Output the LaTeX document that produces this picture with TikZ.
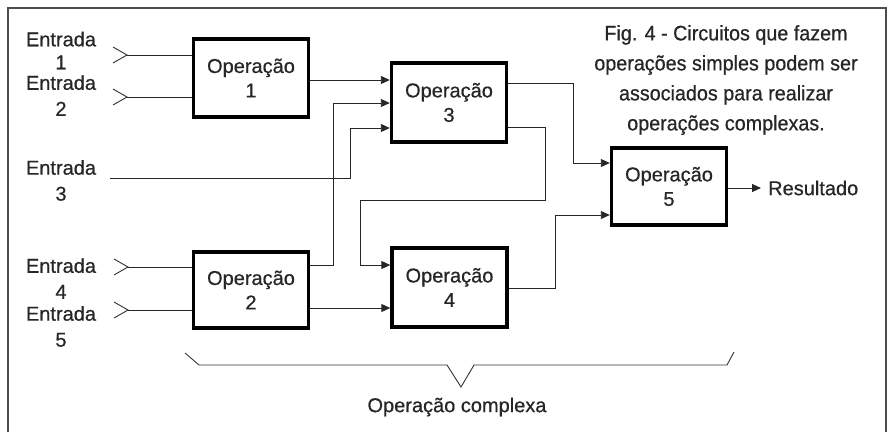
\documentclass[tikz,border=0pt]{standalone}
\usepackage{fontspec}
\setmainfont[FakeBold=0.6]{Liberation Sans}
\usetikzlibrary{arrows.meta}
\begin{document}
\begin{tikzpicture}[x=1pt,y=-1pt,
  opbox/.style={draw=black,line width=3.4pt,minimum width=115pt,minimum height=75pt,inner sep=0pt,align=center,font=\fontsize{20}{24.5}\selectfont,text=black!85},
  lbl/.style={align=center,inner sep=0pt,font=\fontsize{20}{26}\selectfont,text=black!85},
  wire/.style={line width=0.9pt,draw=black!85},
  arr/.style={wire,-{Triangle[length=9pt,width=8pt]}},
  chev/.style={line width=0.9pt,draw=black!80}]
\useasboundingbox (0,0) rectangle (890,432);
% frame
\draw[line width=1.8pt,draw=black!70] (8,432) -- (8,8) -- (886,8) -- (886,432);
% boxes
\node[opbox,minimum height=78pt] (op1) at (251,78) {Operação\\1};
\node[opbox,minimum height=76pt] (op2) at (251,290) {Operação\\2};
\node[opbox,minimum height=79pt] (op3) at (449,102.5) {Operação\\3};
\node[opbox,minimum height=79pt] (op4) at (449.5,287.5) {Operação\\4};
\node[opbox,minimum height=77pt] (op5) at (669,186.5) {Operação\\5};
% input labels
\node[lbl,font=\fontsize{20}{23}\selectfont] (e1) at (61,50.5) {Entrada\\1};
\node[lbl] (e2) at (61,95.5) {Entrada\\2};
\node[lbl] (e3) at (61,180.5) {Entrada\\3};
\node[lbl] (e4) at (61,278.5) {Entrada\\4};
\node[lbl] (e5) at (61,326.5) {Entrada\\5};
% chevrons
\coordinate (c1) at (127,55);
\coordinate (c2) at (127,97);
\coordinate (c4) at (128,267);
\coordinate (c5) at (128,310);
\coordinate (c3) at (110,178);
\foreach \c in {c1,c2,c4,c5}{
  \draw[chev] ([shift={(-14,-8)}]\c) -- (\c) -- ([shift={(-14,8)}]\c);
}
% inputs to op1 and op2
\draw[wire] (c1) -- (op1.west |- c1);
\draw[wire] (c2) -- (op1.west |- c2);
\draw[wire] (c4) -- (op2.west |- c4);
\draw[wire] (c5) -- (op2.west |- c5);
% op1 -> op3
\draw[arr] (op1.east |- 0,80) -- (op3.west |- 0,80);
% op2 -> op3
\draw[arr] (op2.east |- 0,265) -- (333,265) -- (333,103) -- (op3.west |- 0,103);
% entrada 3 -> op3
\draw[arr] (c3) -- (350,178) -- (350,128) -- (op3.west |- 0,128);
% op3 -> op5
\draw[arr] (op3.east |- 0,83) -- (573,83) -- (573,163) -- (op5.west |- 0,163);
% op3 -> op4
\draw[arr] (op3.east |- 0,127) -- (545,127) -- (545,200) -- (360,200) -- (360,265) -- (op4.west |- 0,265);
% op2 -> op4
\draw[arr] (op2.east |- 0,308) -- (op4.west |- 0,308);
% op4 -> op5
\draw[arr] (op4.east |- 0,288) -- (555,288) -- (555,215) -- (op5.west |- 0,215);
% result
\node[lbl,anchor=west] (res) at (768,188) {Resultado};
\draw[arr] (op5.east |- res.west) -- ([xshift=-7pt]res.west);
% caption
\node[align=center,inner sep=0pt,font=\fontsize{21}{30}\selectfont,text=black!85] (cap) at (726,80)
  {\scalebox{0.94}[1]{Fig. 4 - Circuitos que fazem}\\\scalebox{0.94}[1]{operações simples podem ser}\\\scalebox{0.94}[1]{associados para realizar}\\\scalebox{0.94}[1]{operações complexas.}};
% brace
\draw[chev] (185,353) -- (199,365) -- (447,365) -- (461,387) -- (474,365) -- (727,365) -- (734,352);
\node[lbl] (cx) at (457,407) {Operação complexa};
\end{tikzpicture}
\end{document}
